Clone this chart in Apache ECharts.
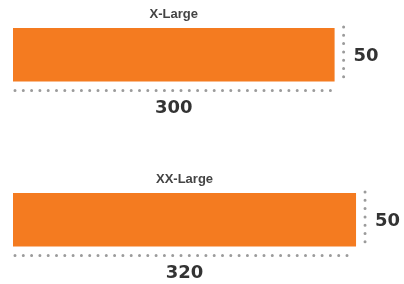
<!DOCTYPE html>
<html>
<head>
<meta charset="utf-8">
<script src="https://cdn.jsdelivr.net/npm/echarts@6/dist/echarts.min.js"></script>
<style>
  html, body { margin: 0; padding: 0; background: #fff; }
  #chart { width: 404px; height: 284px; }
</style>
</head>
<body>
<div id="chart"></div>
<script>
// size guide: each box is drawn to the same scale
var sizeNames = ['X-Large', 'XX-Large'];
var boxWidths = [300, 320];
var boxHeights = [50, 50];

var scale = 1.072;         // px per unit
var gridTops = [28, 193];
var orange = '#F47B20';
var dotColor = '#9b9b9b';
var numFont = 'bold 18px "DejaVu Sans"';

function dotted(x1, y1, x2, y2) {
    return {
        type: 'line',
        shape: { x1: x1, y1: y1, x2: x2, y2: y2 },
        style: { stroke: dotColor, lineWidth: 3, lineCap: 'round', lineDash: [0, 8.3] }
    };
}

function makeRender(idx) {
    return function (params, api) {
        var w = api.value(0), h = api.value(1);
        var p0 = api.coord([0, 0]);
        var p1 = api.coord([w, h]);
        var left = p0[0], bottom = p0[1], right = p1[0], top = p1[1];
        var cx = (left + right) / 2;
        return {
            type: 'group',
            children: [
                { type: 'rect', shape: { x: left, y: top, width: right - left, height: bottom - top },
                  style: { fill: orange } },
                { type: 'text', x: cx, y: top - 14,
                  style: { text: sizeNames[idx], font: 'bold 13px "Liberation Sans"', fill: '#444',
                           align: 'center', verticalAlign: 'middle' } },
                dotted(left + 2, bottom + 9, right - 3, bottom + 9),
                { type: 'text', x: cx, y: bottom + 27,
                  style: { text: String(w), font: numFont, fill: '#333',
                           align: 'center', verticalAlign: 'middle' } },
                dotted(right + 9, top - 1, right + 9, bottom - 3),
                { type: 'text', x: right + 19, y: (top + bottom) / 2 + 2,
                  style: { text: String(h), font: numFont, fill: '#333',
                           align: 'left', verticalAlign: 'middle' } }
            ]
        };
    };
}

var grids = [], xAxes = [], yAxes = [], series = [];
for (var i = 0; i < sizeNames.length; i++) {
    grids.push({ left: 13, top: gridTops[i], width: boxWidths[i] * scale, height: boxHeights[i] * scale });
    xAxes.push({ type: 'value', gridIndex: i, min: 0, max: boxWidths[i], show: false });
    yAxes.push({ type: 'value', gridIndex: i, min: 0, max: boxHeights[i], show: false });
    series.push({
        type: 'custom',
        xAxisIndex: i,
        yAxisIndex: i,
        clip: false,
        silent: true,
        renderItem: makeRender(i),
        data: [[boxWidths[i], boxHeights[i]]]
    });
}

var chart = echarts.init(document.getElementById('chart'));
chart.setOption({
    animation: false,
    grid: grids,
    xAxis: xAxes,
    yAxis: yAxes,
    series: series
});
</script>
</body>
</html>
